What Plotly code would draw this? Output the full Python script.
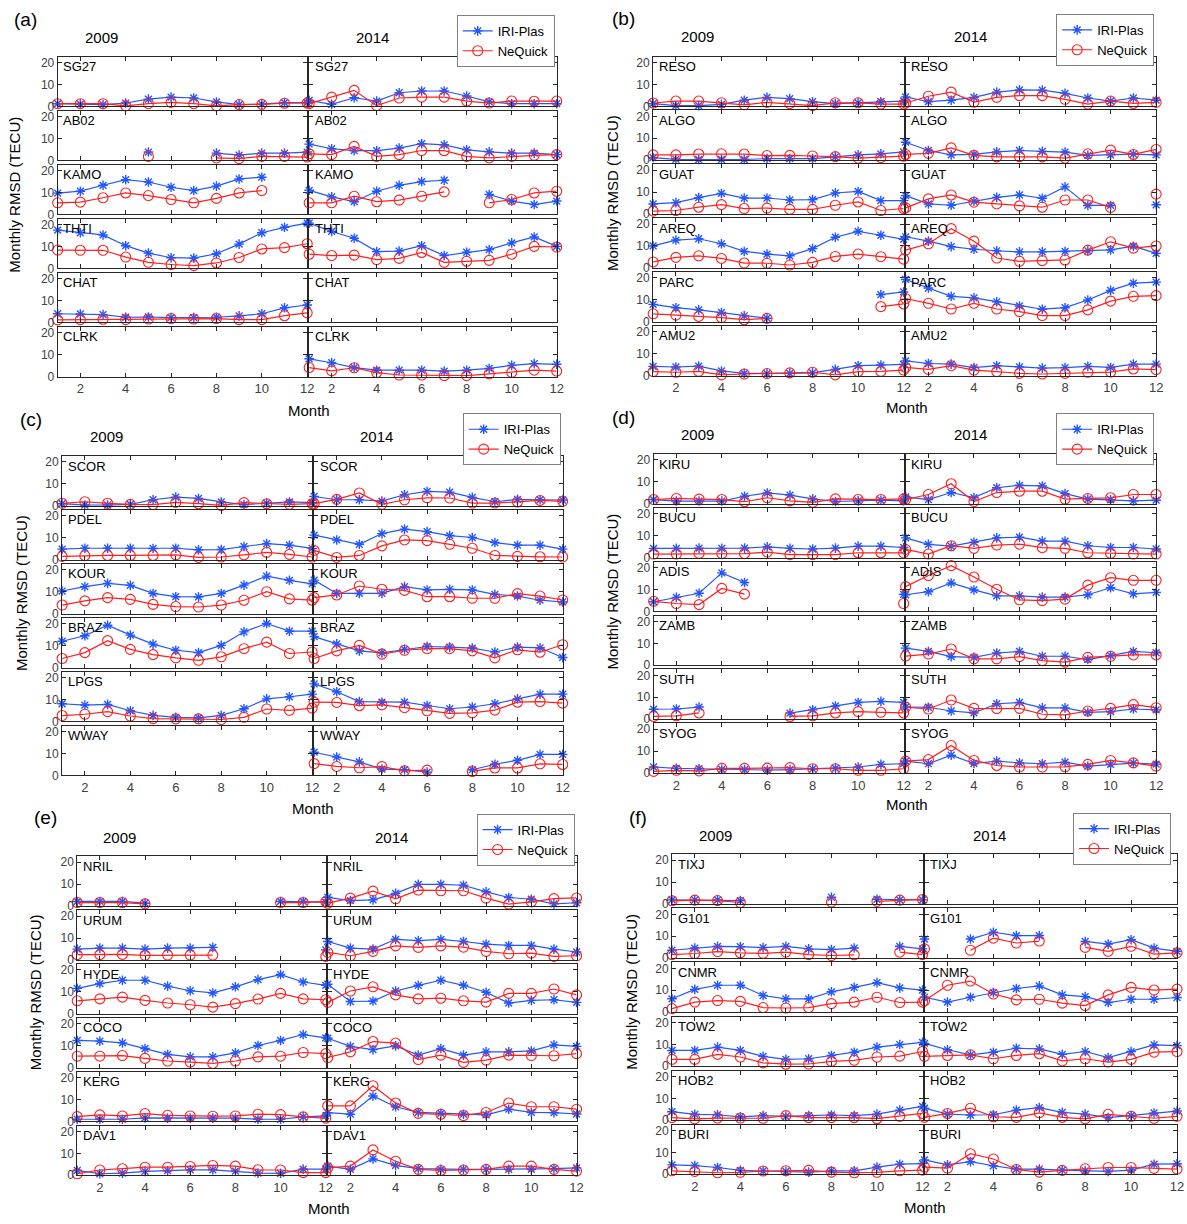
import plotly.graph_objects as go

W, H = 1187, 1224
MONTHS = list(range(1, 13))
N = None
EMPTY = [N] * 12

# ---------------- monthly RMSD values (TECU) ----------------
# (a)
SG27 = dict(iri09=[1.2, 1.0, 0.8, 1.5, 3.3, 4.2, 3.8, 2.0, 0.8, 1.0, 1.7, 1.7],
            neq09=[1.2, 1.2, 1.2, 0.2, 1.2, 1.8, 1.2, 0.2, 0.8, 0.9, 1.4, 1.5],
            iri14=[2.7, 0.9, 3.9, 2.4, 6.2, 7.0, 7.0, 4.7, 2.0, 1.2, 1.2, 1.2],
            neq14=[1.2, 4.2, 7.3, 0.3, 3.8, 4.2, 4.2, 2.4, 1.5, 2.4, 2.3, 2.4])
AB02 = dict(iri09=[N, N, N, N, 3.8, N, N, 3.3, 2.4, 3.3, 3.3, 3.8],
            neq09=[N, N, N, N, 1.8, N, N, 1.1, 0.8, 1.8, 1.8, 1.5],
            iri14=[7.4, 5.3, 4.4, 4.4, 5.6, 7.6, 7.1, 4.8, 3.9, 3.3, 3.3, 2.6],
            neq14=[3.0, 2.6, 6.4, 1.8, 2.6, 4.5, 4.4, 1.8, 1.1, 1.8, 2.3, 2.6])
KAMO = dict(iri09=[9.7, 10.6, 13.3, 15.9, 14.8, 12.4, 10.9, 12.9, 16.2, 17.0, N, N],
            neq09=[5.3, 5.6, 7.6, 9.8, 8.6, 6.8, 5.3, 7.3, 9.8, 10.9, N, N],
            iri14=[11.0, 8.0, 5.8, 10.6, 13.3, 15.0, 15.6, N, 9.1, 6.1, 4.5, 6.1],
            neq14=[5.3, 5.3, 8.3, 5.8, 6.5, 8.3, 10.3, N, 5.3, 6.8, 9.8, 10.6])
THTI = dict(iri09=[17.5, 16.3, 15.3, 10.4, 7.0, 4.9, 4.7, 6.7, 11.1, 16.3, 18.8, 20.7],
            neq09=[8.4, 8.3, 8.3, 5.2, 2.8, 1.8, 1.3, 2.5, 5.0, 8.9, 9.5, 11.3],
            iri14=[20.7, 16.9, 13.8, 7.7, 7.9, 10.4, 5.9, 7.4, 8.6, 11.7, 14.4, 10.1],
            neq14=[6.5, 5.9, 6.1, 4.0, 4.6, 7.3, 2.8, 3.3, 3.7, 6.5, 10.1, 9.8])
CHAT = dict(iri09=[4.0, 3.9, 3.6, 2.4, 2.5, 2.2, 2.2, 2.4, 3.0, 4.0, 6.7, 8.0],
            neq09=[1.2, 1.3, 1.5, 1.3, 1.6, 1.8, 1.6, 1.8, 1.3, 1.3, 3.1, 4.4],
            iri14=EMPTY, neq14=EMPTY)
CLRK = dict(iri09=EMPTY, neq09=EMPTY,
            iri14=[8.1, 6.3, 4.1, 2.9, 2.9, 2.9, 2.5, 2.9, 3.7, 5.1, 5.9, 5.6],
            neq14=[4.1, 2.6, 4.0, 1.8, 0.7, 0.7, 0.4, 0.4, 1.2, 1.9, 2.9, 2.5])

# (b)
RESO = dict(iri09=[1.2, 0.3, 0.3, 0.9, 2.8, 4.1, 3.5, 2.1, 1.2, 1.6, 2.1, 2.4],
            neq09=[1.5, 2.4, 2.4, 1.6, 0.7, 1.8, 1.2, 0.3, 1.6, 1.6, 1.0, 1.0],
            iri14=[4.3, 2.1, 2.8, 4.1, 6.5, 7.5, 7.4, 5.9, 3.8, 2.4, 3.8, 2.8],
            neq14=[1.5, 4.6, 6.5, 1.9, 4.1, 4.9, 4.9, 3.2, 1.0, 2.4, 1.3, 1.8])
ALGO = dict(iri09=[1.2, 0.4, 0.3, 0.3, 0.3, 0.7, 0.7, 0.7, 1.5, 2.4, 2.9, 3.8],
            neq09=[2.4, 2.4, 2.8, 2.9, 2.8, 2.1, 2.2, 1.9, 1.6, 0.9, 1.2, 1.8],
            iri14=[8.2, 4.4, 2.4, 2.6, 3.8, 4.4, 4.0, 3.7, 2.2, 2.4, 2.8, 2.4],
            neq14=[2.6, 3.1, 5.6, 2.2, 1.5, 1.6, 1.5, 0.9, 2.9, 4.6, 2.6, 4.9])
GUAT = dict(iri09=[4.6, 5.2, 7.5, 9.4, 7.3, 7.3, 6.4, 6.6, 9.6, 10.3, 6.1, 6.1],
            neq09=[1.3, 1.6, 3.1, 4.3, 2.5, 2.7, 2.1, 2.1, 4.0, 5.5, 1.6, 2.5],
            iri14=[8.4, 4.6, 4.0, 5.8, 7.6, 8.7, 7.2, 12.4, 3.9, 3.9, N, 4.2],
            neq14=[2.8, 6.9, 8.7, 5.4, 4.6, 3.7, 3.1, 6.4, 6.4, 3.0, N, 9.1])
AREQ = dict(iri09=[10.0, 12.7, 13.3, 11.0, 7.5, 6.3, 5.5, 8.8, 14.0, 16.7, 14.9, 13.0],
            neq09=[2.7, 4.8, 5.5, 4.3, 2.2, 2.1, 1.3, 2.5, 5.2, 6.3, 5.1, 4.0],
            iri14=[14.2, 12.2, 9.7, 8.5, 7.8, 7.3, 7.3, 7.5, 7.8, 8.2, 9.9, 6.6],
            neq14=[8.1, 11.0, 17.9, 12.2, 4.5, 3.0, 3.3, 3.6, 8.1, 11.9, 9.0, 10.0])
PARC = dict(iri09=[7.9, 6.4, 5.4, 4.2, 2.7, 1.6, N, N, N, N, 12.4, 13.6],
            neq09=[3.6, 3.0, 2.4, 1.9, 0.9, 1.5, N, N, N, N, 6.9, 8.1],
            iri14=[19.3, 15.4, 11.6, 10.9, 9.1, 7.2, 5.7, 6.4, 9.9, 14.3, 17.6, 18.1],
            neq14=[10.6, 8.4, 5.8, 8.4, 5.8, 4.6, 2.8, 2.8, 5.4, 9.4, 11.6, 11.9])
AMU2 = dict(iri09=[4.2, 3.9, 4.3, 2.1, 1.0, 0.9, 1.0, 1.2, 2.8, 4.5, 4.8, 5.1],
            neq09=[1.8, 1.5, 1.9, 0.3, 0.7, 0.9, 1.2, 1.5, 0.3, 1.8, 1.9, 2.5],
            iri14=[6.7, 5.5, 5.2, 3.6, 4.5, 4.0, 3.4, 3.6, 4.2, 3.7, 5.2, 5.2],
            neq14=[3.7, 2.8, 4.5, 2.5, 1.8, 1.0, 0.7, 1.0, 1.5, 1.6, 3.0, 2.7])

# (c)
SCOR = dict(iri09=[0.9, 0.3, 0.3, 0.6, 2.7, 3.9, 3.3, 1.7, 0.5, 1.2, 1.7, 1.4],
            neq09=[1.1, 1.8, 1.1, 0.6, 0.5, 1.5, 0.9, 0.1, 1.4, 0.9, 0.6, 0.9],
            iri14=[4.2, 2.7, 2.7, 2.1, 5.0, 6.5, 6.2, 3.8, 1.8, 2.9, 2.7, 2.6],
            neq14=[0.9, 2.9, 5.8, 0.6, 2.7, 3.6, 3.5, 1.2, 1.2, 1.7, 2.4, 2.0])
PDEL = dict(iri09=[4.8, 5.2, 5.2, 5.2, 5.1, 5.2, 4.5, 4.6, 6.0, 7.3, 6.6, 5.1],
            neq09=[1.5, 1.8, 1.9, 1.9, 1.9, 2.2, 1.0, 1.2, 2.2, 3.3, 2.4, 1.2],
            iri14=[11.2, 9.0, 7.0, 11.9, 13.9, 12.8, 11.0, 10.1, 7.8, 6.6, 6.6, 4.8],
            neq14=[4.2, 1.0, 1.9, 6.3, 9.0, 8.7, 7.0, 5.2, 1.9, 1.5, 1.3, 1.2])
KOUR = dict(iri09=[10.3, 12.3, 13.8, 12.9, 9.2, 7.7, 7.6, 9.2, 13.0, 17.1, 15.2, 13.6],
            neq09=[3.9, 5.8, 7.3, 6.5, 4.2, 3.2, 3.0, 3.9, 6.1, 10.0, 6.7, 6.1],
            iri14=[15.3, 9.2, 9.2, 9.2, 12.3, 10.8, 11.1, 10.8, 8.8, 8.0, 6.1, 5.3],
            neq14=[7.3, 8.5, 12.6, 11.1, 10.6, 7.7, 7.7, 7.0, 7.0, 9.1, 8.0, 6.2])
BRAZ = dict(iri09=[12.0, 14.5, 19.3, 14.8, 10.7, 7.9, 6.8, 10.1, 16.3, 20.1, 16.6, 16.6],
            neq09=[4.1, 6.8, 12.3, 8.3, 5.9, 4.4, 3.3, 4.9, 8.6, 11.6, 6.4, 7.1],
            iri14=[14.1, 10.8, 7.6, 6.7, 8.3, 9.6, 9.3, 8.9, 7.1, 9.3, 9.0, 4.6],
            neq14=[4.1, 7.6, 10.1, 6.1, 7.9, 8.6, 8.6, 7.6, 4.4, 8.1, 7.0, 10.4])
LPGS = dict(iri09=[8.1, 7.5, 7.8, 4.9, 2.8, 1.9, 1.6, 2.8, 5.8, 10.3, 11.3, 12.5],
            neq09=[2.7, 3.3, 4.5, 2.5, 1.3, 1.2, 1.2, 0.9, 1.9, 5.7, 5.1, 6.1],
            iri14=[17.2, 13.6, 9.1, 8.8, 8.8, 7.3, 5.8, 6.6, 8.1, 10.3, 12.5, 12.5],
            neq14=[8.8, 8.7, 7.2, 7.6, 6.3, 4.9, 3.7, 3.9, 5.2, 8.8, 9.1, 8.4])
WWAY = dict(iri09=EMPTY, neq09=EMPTY,
            iri14=[10.6, 8.4, 6.2, 2.9, 2.6, 1.5, N, 2.6, 5.1, 6.9, 9.6, 9.6],
            neq14=[5.4, 4.1, 3.5, 4.0, 2.1, 2.4, N, 1.8, 3.4, 3.4, 5.3, 5.0])

# (d)
KIRU = dict(iri09=[1.9, 1.2, 1.2, 1.2, 3.4, 4.9, 3.9, 2.2, 1.0, 1.3, 1.6, 1.3],
            neq09=[1.9, 2.4, 2.1, 1.9, 0.9, 2.7, 1.3, 0.6, 2.2, 1.9, 1.9, 2.2],
            iri14=[3.1, 1.9, 5.1, 2.8, 7.3, 8.4, 8.1, 4.6, 2.1, 1.8, 1.3, 1.6],
            neq14=[1.9, 4.2, 9.1, 1.0, 5.1, 5.7, 5.7, 2.1, 2.4, 2.7, 4.2, 4.2])
BUCU = dict(iri09=[4.2, 4.2, 4.3, 4.2, 4.3, 4.9, 4.2, 3.9, 4.3, 5.2, 5.2, 4.6],
            neq09=[1.6, 1.6, 1.9, 1.8, 1.8, 2.5, 1.3, 1.3, 1.3, 2.2, 2.2, 2.1],
            iri14=[9.0, 6.0, 5.2, 7.0, 9.0, 9.3, 7.5, 7.5, 5.4, 4.6, 4.6, 3.9],
            neq14=[3.7, 1.6, 5.4, 4.2, 5.7, 6.1, 4.5, 4.2, 2.2, 1.9, 1.6, 1.6])
ADIS = dict(iri09=[4.4, 6.4, 8.3, 17.6, 13.2, N, N, N, N, N, N, 7.8],
            neq09=[4.6, 3.6, 3.1, 10.5, 7.9, N, N, N, N, N, N, 3.6],
            iri14=[7.6, 9.0, 13.0, 9.8, 7.1, 7.1, 6.5, 6.5, 7.6, 10.8, 8.0, 8.7],
            neq14=[11.3, 16.4, 20.9, 15.7, 10.1, 5.3, 4.9, 5.6, 12.0, 15.4, 14.2, 14.2])
ZAMB = dict(iri09=EMPTY, neq09=EMPTY,
            iri14=[7.8, 6.3, 3.9, 3.6, 5.6, 6.3, 4.1, 4.1, 2.6, 4.4, 6.3, 5.7],
            neq14=[4.2, 5.1, 7.4, 2.9, 2.9, 3.9, 2.1, 1.4, 3.6, 4.1, 4.7, 4.7])
SUTH = dict(iri09=[4.5, 4.6, 5.5, N, N, N, 2.7, 4.2, 6.0, 7.6, 8.1, 7.6],
            neq09=[1.2, 1.5, 2.8, N, N, N, 1.2, 1.5, 2.8, 3.4, 3.1, 2.8],
            iri14=[5.5, 5.4, 3.7, 2.8, 7.0, 7.6, 5.1, 5.1, 3.1, 3.4, 4.6, 4.2],
            neq14=[5.4, 4.6, 8.7, 4.9, 4.8, 4.9, 2.2, 1.9, 3.7, 4.9, 6.6, 5.2])
SYOG = dict(iri09=[2.7, 2.1, 1.9, 1.6, 1.5, 1.3, 1.5, 1.8, 2.1, 2.7, 3.9, 4.2],
            neq09=[0.7, 1.2, 0.9, 2.1, 2.1, 2.2, 2.4, 1.9, 1.9, 1.2, 1.2, 1.9],
            iri14=[5.4, 4.2, 8.1, 4.3, 5.4, 4.6, 4.2, 4.9, 3.1, 3.9, 4.5, 4.0],
            neq14=[5.4, 6.1, 12.5, 5.7, 3.4, 2.7, 2.7, 2.8, 3.9, 5.7, 4.6, 3.1])

# (e)
NRIL = dict(iri09=[2.1, 2.1, 2.1, 1.3, N, N, N, N, N, 2.1, 2.1, 1.8],
            neq09=[1.6, 1.6, 1.6, 1.0, N, N, N, N, N, 1.6, 1.6, 2.1],
            iri14=[4.0, 2.5, 2.8, 5.8, 9.9, 9.9, 9.5, 6.5, 3.9, 3.1, 1.0, 1.5],
            neq14=[1.3, 3.6, 6.8, 3.3, 7.3, 7.0, 7.0, 3.6, 0.9, 1.9, 3.4, 3.7])
URUM = dict(iri09=[4.9, 5.4, 5.4, 4.9, 5.4, 5.4, 5.7, N, N, N, N, 4.6],
            neq09=[2.4, 2.4, 2.5, 2.1, 2.2, 2.2, 2.2, N, N, N, N, 1.6],
            iri14=[8.4, 5.4, 4.9, 9.4, 8.8, 9.4, 8.4, 7.2, 6.6, 6.6, 4.9, 3.6],
            neq14=[3.4, 1.9, 3.9, 6.4, 5.7, 6.4, 5.8, 3.9, 2.8, 3.1, 1.6, 1.9])
HYDE = dict(iri09=[11.6, 13.8, 15.3, 15.3, 12.6, 10.5, 9.5, 12.3, 15.6, 17.9, 14.5, 13.0],
            neq09=[5.9, 6.8, 7.6, 6.1, 4.9, 4.1, 3.0, 4.6, 6.7, 9.3, 6.8, 6.4],
            iri14=[13.5, 5.6, 5.8, 10.4, 13.0, 15.3, 13.0, 9.8, 4.9, 6.1, 6.4, 5.2],
            neq14=[5.2, 10.4, 12.3, 8.6, 6.8, 7.1, 5.9, 5.3, 9.3, 9.3, 11.3, 8.6])
COCO = dict(iri09=[12.4, 12.1, 11.3, 8.7, 6.0, 4.9, 4.9, 6.7, 10.1, 12.4, 15.1, 13.6],
            neq09=[5.2, 5.2, 5.5, 4.2, 3.0, 2.5, 1.9, 3.0, 4.9, 5.2, 6.9, 6.4],
            iri14=[13.4, 9.7, 8.2, 9.9, 5.7, 8.7, 5.7, 7.2, 7.2, 7.6, 10.4, 9.7],
            neq14=[4.6, 7.2, 11.9, 11.2, 3.7, 5.7, 2.4, 3.4, 5.7, 5.5, 5.4, 6.4])
KERG = dict(iri09=[1.0, 1.0, 1.0, 1.6, 1.5, 1.5, 1.5, 1.5, 1.0, 1.0, 2.1, 2.5],
            neq09=[2.2, 3.0, 2.5, 3.6, 2.8, 2.5, 2.4, 2.5, 3.3, 3.1, 2.1, 1.5],
            iri14=[4.0, 3.3, 11.6, 6.7, 4.1, 3.7, 3.3, 3.0, 5.6, 4.1, 4.0, 3.4],
            neq14=[7.1, 7.1, 16.3, 8.4, 3.7, 3.3, 2.7, 4.1, 8.4, 6.7, 6.7, 5.6])
DAV1 = dict(iri09=[2.2, 0.7, 1.0, 1.8, 2.1, 2.5, 2.5, 1.9, 1.0, 0.9, 2.8, 2.8],
            neq09=[0.7, 2.4, 3.0, 3.7, 3.7, 4.0, 4.5, 4.2, 2.5, 2.4, 1.2, 1.2],
            iri14=[4.2, 2.7, 7.5, 4.5, 3.0, 2.7, 2.7, 2.7, 2.7, 2.7, 3.0, 3.4],
            neq14=[3.4, 4.2, 11.6, 6.4, 2.7, 2.2, 2.4, 2.7, 4.2, 4.2, 2.7, 1.9])

# (f)
TIXJ = dict(iri09=[1.9, 1.9, 1.9, 1.6, N, N, N, 3.1, N, 2.2, 1.9, 1.9],
            neq09=[1.5, 1.8, 1.6, 0.7, N, N, N, 0.9, N, 1.2, 1.8, 2.1],
            iri14=EMPTY, neq14=EMPTY)
G101 = dict(iri09=[3.6, 4.6, 5.4, 5.2, 4.8, 5.4, 4.2, 3.9, 4.6, N, 5.4, 4.2],
            neq09=[1.6, 2.1, 3.0, 2.4, 2.2, 2.7, 1.6, 1.2, 1.5, N, 2.7, 1.6],
            iri14=[8.7, N, 8.7, 11.8, 10.3, 10.3, N, 7.6, 6.4, 8.4, 4.6, 3.1],
            neq14=[4.2, N, 3.6, 9.1, 6.9, 7.8, N, 4.9, 3.1, 5.4, 1.8, 2.4])
CNMR = dict(iri09=[6.1, 10.4, 12.3, 12.3, 7.6, 6.1, 6.1, 9.3, 11.3, 13.5, 11.1, 10.1],
            neq09=[1.6, 4.6, 5.3, 4.9, 2.1, 1.9, 2.1, 3.9, 4.6, 6.8, 4.4, 4.6],
            iri14=[6.8, 4.6, 6.8, 8.9, 10.8, 12.0, 7.9, 7.1, 4.4, 5.9, 5.9, 6.7],
            neq14=[5.2, 12.3, 14.2, 8.3, 5.6, 5.9, 4.1, 3.0, 7.9, 11.3, 10.1, 10.5])
TOW2 = dict(iri09=[7.2, 7.2, 8.7, 7.2, 4.5, 3.1, 3.4, 4.9, 6.4, 8.7, 9.9, 10.9],
            neq09=[3.1, 3.1, 5.4, 4.2, 1.5, 0.9, 1.0, 2.2, 2.7, 4.2, 4.6, 6.7],
            iri14=[10.4, 7.5, 5.2, 6.4, 8.2, 7.9, 5.4, 6.7, 3.9, 6.7, 9.7, 9.4],
            neq14=[4.5, 4.9, 5.2, 3.4, 4.9, 5.7, 2.4, 3.4, 1.9, 3.1, 6.4, 6.7])
HOB2 = dict(iri09=[3.9, 2.7, 2.5, 1.5, 2.1, 1.8, 2.1, 2.4, 2.1, 2.8, 4.6, 6.3],
            neq09=[1.2, 0.6, 1.0, 1.0, 0.9, 2.1, 1.2, 1.2, 1.2, 0.7, 1.8, 3.1],
            iri14=[5.5, 2.8, 2.4, 2.5, 4.6, 5.8, 3.6, 2.8, 1.2, 2.1, 3.3, 4.2],
            neq14=[1.3, 3.1, 5.5, 1.6, 1.3, 3.4, 1.3, 0.6, 2.7, 1.8, 0.9, 1.8])
BURI = dict(iri09=[4.3, 4.0, 3.1, 1.8, 1.5, 1.3, 1.0, 1.6, 1.6, 3.3, 4.6, 4.9],
            neq09=[1.6, 1.3, 0.7, 0.9, 1.5, 1.6, 1.8, 1.0, 0.7, 0.9, 1.6, 1.9],
            iri14=[6.6, 4.3, 5.8, 3.9, 2.4, 2.4, 1.9, 1.6, 1.3, 1.9, 4.6, 4.8],
            neq14=[3.3, 2.8, 9.4, 7.0, 2.2, 1.0, 1.8, 2.5, 3.1, 3.1, 2.7, 2.4])

PANEL_TAGS = ["(a)", "(b)", "(c)", "(d)", "(e)", "(f)"]
PANEL_STATIONS = [
    [("SG27", SG27), ("AB02", AB02), ("KAMO", KAMO), ("THTI", THTI), ("CHAT", CHAT), ("CLRK", CLRK)],
    [("RESO", RESO), ("ALGO", ALGO), ("GUAT", GUAT), ("AREQ", AREQ), ("PARC", PARC), ("AMU2", AMU2)],
    [("SCOR", SCOR), ("PDEL", PDEL), ("KOUR", KOUR), ("BRAZ", BRAZ), ("LPGS", LPGS), ("WWAY", WWAY)],
    [("KIRU", KIRU), ("BUCU", BUCU), ("ADIS", ADIS), ("ZAMB", ZAMB), ("SUTH", SUTH), ("SYOG", SYOG)],
    [("NRIL", NRIL), ("URUM", URUM), ("HYDE", HYDE), ("COCO", COCO), ("KERG", KERG), ("DAV1", DAV1)],
    [("TIXJ", TIXJ), ("G101", G101), ("CNMR", CNMR), ("TOW2", TOW2), ("HOB2", HOB2), ("BURI", BURI)],
]
YEARS = ["2009", "2014"]
MODELS = ["IRI-Plas", "NeQuick"]
X_TICKS = [2, 4, 6, 8, 10, 12]
Y_TICKS = [0, 10, 20]

# ---------------- page geometry (pixels) ----------------
# leg = top-right corner of each legend box
GEOM = [
    dict(left=58, mid=309, right=560, top=56, pitch=54.4, tag=(26, 19), y09=(102, 37), y14=(375, 37),
         leg=(558, 14), month=(311, 412), ytitle=(15, 195)),
    dict(left=657, mid=909, right=1163, top=56, pitch=54.2, tag=(627, 18), y09=(702, 36), y14=(976, 36),
         leg=(1161, 13), month=(912, 409), ytitle=(616, 193)),
    dict(left=62.5, mid=314, right=566, top=458, pitch=54.3, tag=(31, 421), y09=(107, 438), y14=(379, 438),
         leg=(564, 415), month=(315, 813), ytitle=(21, 596)),
    dict(left=657.5, mid=909, right=1163, top=456, pitch=54.2, tag=(627, 419), y09=(702, 436), y14=(976, 436),
         leg=(1161, 415), month=(912, 809), ytitle=(616, 594)),
    dict(left=77.7, mid=327.7, right=580, top=861, pitch=54.2, tag=(46, 822), y09=(120, 842), y14=(394, 842),
         leg=(578, 818), month=(331, 1215), ytitle=(36, 998)),
    dict(left=676, mid=928, right=1184, top=859, pitch=54.4, tag=(642, 822), y09=(720, 840), y14=(995, 840),
         leg=(1178, 817), month=(930, 1214), ytitle=(635, 997)),
]
ROW_H = 50
GAP = 2
Y_MAX = 22.7

FONT = "Liberation Sans, Arial, Helvetica, sans-serif"
BLUE = "#2356ff"
RED = "#ff1f1f"
AXIS_COL = "#262626"
TICK_COL = "#404040"


def px(x):
    return x / W


def py(y):
    return 1 - y / H


fig = go.Figure()
layout = {}
annotations = []
k = 0

for p, (tag, stations, g) in enumerate(zip(PANEL_TAGS, PANEL_STATIONS, GEOM)):
    legend_name = "legend" if p == 0 else f"legend{p + 1}"
    col_x = [(g["left"], g["mid"]), (g["mid"] + GAP, g["right"])]
    for r, (name, st) in enumerate(stations):
        top = g["top"] + r * g["pitch"]
        bottom = top + ROW_H
        for c, year in enumerate(YEARS):
            k += 1
            xa = "x" if k == 1 else f"x{k}"
            ya = "y" if k == 1 else f"y{k}"
            suffix = "" if k == 1 else str(k)
            x0, x1 = col_x[c]
            layout["xaxis" + suffix] = dict(
                domain=[px(x0), px(x1)], anchor=ya, range=[1, 12],
                tickvals=X_TICKS, showticklabels=(r == len(stations) - 1),
                ticks="inside", ticklen=4, tickwidth=1, tickcolor=AXIS_COL,
                showline=True, linecolor=AXIS_COL, linewidth=1, mirror="ticks",
                showgrid=False, zeroline=False,
                tickfont=dict(size=13, color=TICK_COL, family=FONT),
            )
            layout["yaxis" + suffix] = dict(
                domain=[py(bottom), py(top)], anchor=xa, range=[0, Y_MAX],
                tickvals=Y_TICKS, showticklabels=(c == 0),
                ticks="inside", ticklen=4, tickwidth=1, tickcolor=AXIS_COL,
                showline=True, linecolor=AXIS_COL, linewidth=1, mirror="ticks",
                showgrid=False, zeroline=False,
                tickfont=dict(size=12, color=TICK_COL, family=FONT),
            )
            yy = "09" if c == 0 else "14"
            first = (r == 0 and c == 1)
            fig.add_trace(go.Scatter(
                x=MONTHS, y=st["iri" + yy], xaxis=xa, yaxis=ya, name=MODELS[0],
                mode="lines+markers", cliponaxis=False,
                line=dict(color=BLUE, width=1.2),
                marker=dict(symbol="asterisk-open", size=8, color=BLUE, line=dict(color=BLUE, width=1.4)),
                legend=legend_name, showlegend=first,
            ))
            fig.add_trace(go.Scatter(
                x=MONTHS, y=st["neq" + yy], xaxis=xa, yaxis=ya, name=MODELS[1],
                mode="lines+markers", cliponaxis=False,
                line=dict(color=RED, width=1.2),
                marker=dict(symbol="circle-open", size=10, color=RED, line=dict(color=RED, width=1.1)),
                legend=legend_name, showlegend=first,
            ))
            annotations.append(dict(
                text=name, xref=f"{xa} domain", yref=f"{ya} domain", x=0.015, y=0.99,
                xanchor="left", yanchor="top", showarrow=False,
                font=dict(size=13, color="black", family=FONT),
            ))

    layout[legend_name] = dict(
        x=px(g["leg"][0]), y=py(g["leg"][1]), xanchor="right", yanchor="top",
        bgcolor="white", bordercolor="#808080", borderwidth=1,
        font=dict(size=13, color="black", family=FONT), tracegroupgap=0,
        itemwidth=30,
    )
    annotations += [
        dict(text=tag, x=px(g["tag"][0]), y=py(g["tag"][1]), font=dict(size=19)),
        dict(text=YEARS[0], x=px(g["y09"][0]), y=py(g["y09"][1]), font=dict(size=15)),
        dict(text=YEARS[1], x=px(g["y14"][0]), y=py(g["y14"][1]), font=dict(size=15)),
        dict(text="Month", x=px(g["month"][0]), y=py(g["month"][1]), font=dict(size=15)),
        dict(text="Monthly RMSD (TECU)", x=px(g["ytitle"][0]), y=py(g["ytitle"][1]),
             textangle=-90, font=dict(size=15)),
    ]

for a in annotations:
    a.setdefault("xref", "paper")
    a.setdefault("yref", "paper")
    a.setdefault("xanchor", "center")
    a.setdefault("yanchor", "middle")
    a.setdefault("showarrow", False)
    a["font"] = dict(family=FONT, color="black", **{k2: v for k2, v in a["font"].items() if k2 not in ("family", "color")})

fig.update_layout(
    width=W, height=H, margin=dict(l=0, r=0, t=0, b=0),
    paper_bgcolor="white", plot_bgcolor="white",
    font=dict(family=FONT, color="black"),
    annotations=annotations,
    **layout,
)

fig.write_html("out.html", config={"displayModeBar": False})
